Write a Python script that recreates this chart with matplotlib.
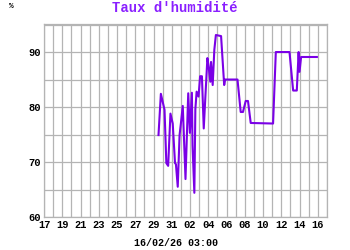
import matplotlib
matplotlib.use("Agg")
import matplotlib.pyplot as plt

# days counted from 17 Jan, humidity in %
days = [12.54, 12.8, 13.2, 13.4, 13.6, 13.85, 14.1, 14.35, 14.45, 14.65, 14.85,
        15.0, 15.2, 15.5, 15.8, 15.98, 16.2, 16.27, 16.47, 16.58, 16.72, 16.93,
        17.1, 17.3, 17.5, 17.68, 17.9, 18.04, 18.22, 18.3, 18.48, 18.66, 18.83,
        19.4, 19.74, 19.85, 21.2, 21.55, 21.8, 22.1, 22.35, 22.65, 25.1, 25.4,
        26.9, 27.3, 27.7, 27.9, 28.0, 28.17, 29.9]
humid = [74.9, 82.4, 79.5, 69.8, 69.3, 78.8, 77.0, 69.8, 69.6, 65.5, 74.9,
         77.1, 80.2, 66.9, 82.5, 75.3, 82.6, 73.0, 64.4, 79.6, 82.8, 81.9,
         85.6, 85.6, 76.1, 81.9, 88.9, 87.3, 84.6, 88.2, 84.0, 90.4, 93.1,
         92.9, 84.0, 85.0, 85.0, 79.1, 79.1, 81.1, 81.1, 77.1, 77.0, 90.0,
         90.0, 83.0, 83.0, 90.0, 86.4, 89.1, 89.1]

xlabels = ["17", "19", "21", "23", "25", "27", "29", "31",
           "02", "04", "06", "08", "10", "12", "14", "16"]
ylabels = [60, 70, 80, 90]

purple = "#7a00e6"
font = dict(family="Liberation Mono", weight="bold")

fig = plt.figure(figsize=(3.5, 2.5), dpi=100)
ax = fig.add_axes([0.126, 0.132, 0.808, 0.772])

ax.plot(days, humid, color=purple, lw=1.5, solid_joinstyle="round")

ax.set_xlim(0, 31)
ax.set_ylim(60, 95.1)
ax.set_xticks(range(0, 31, 2), labels=xlabels)
ax.set_xticks(range(1, 32, 2), minor=True)
ax.set_yticks(ylabels)
ax.set_yticks([65, 75, 85, 95], minor=True)
ax.grid(True, which="both", color="#b4b4b4", lw=0.9)
ax.set_axisbelow(True)
ax.tick_params(which="both", length=0, pad=2, labelsize=7.5)
for lab in ax.get_xticklabels() + ax.get_yticklabels():
    lab.set_fontfamily(font["family"])
    lab.set_fontweight("bold")
for s in ax.spines.values():
    s.set_color("#b4b4b4")
    s.set_linewidth(0.9)

fig.text(0.5, 0.966, "Taux d'humidité", color="#8a1fff", fontsize=10,
         ha="center", va="center", **font)
fig.text(0.031, 0.975, "%", fontsize=5.5, ha="center", va="center", **font)
fig.text(0.503, 0.03, "16/02/26 03:00", fontsize=7.2, ha="center",
         va="center", **font)

fig.savefig("out.png", dpi=100)
